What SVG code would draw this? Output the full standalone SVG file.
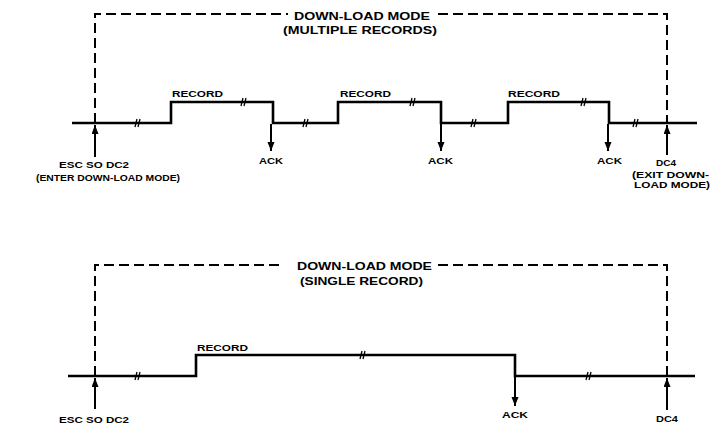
<svg xmlns="http://www.w3.org/2000/svg" width="711" height="426" viewBox="0 0 711 426">
<style>
.bg{fill:#fff}
.sig{fill:none;stroke:#000;stroke-width:2.6;stroke-linejoin:miter}
.dash{fill:none;stroke:#000;stroke-width:2;stroke-dasharray:10 5}
.arr{stroke:#000;stroke-width:2;fill:none}
.brk{stroke:#000;stroke-width:1.3}
text{font-family:"Liberation Sans",Arial,sans-serif;font-weight:bold;fill:#000}
.t{font-size:11px}
.s{font-size:9.5px}
</style>
<defs>
<marker id="ah" markerUnits="userSpaceOnUse" markerWidth="9" markerHeight="8" refX="9" refY="3.5" orient="auto">
<path d="M0,0 L9,3.5 L0,7 z" fill="#000"/>
</marker>
</defs>
<rect class="bg" width="711" height="426"/>

<g id="connectors">
<path class="dash" d="M95,123 V14 H288"/>
<path class="dash" d="M438,14 H667 V123"/>
<path class="sig" d="M72,123 H171 V102 H273 V123 H338 V102 H441 V123 H508 V102 H609 V123 H697"/>
<line class="arr" x1="95" y1="157" x2="95" y2="125" marker-end="url(#ah)"/>
<line class="arr" x1="271" y1="124" x2="271" y2="151" marker-end="url(#ah)"/>
<line class="arr" x1="441" y1="124" x2="441" y2="151" marker-end="url(#ah)"/>
<line class="arr" x1="608" y1="124" x2="608" y2="151" marker-end="url(#ah)"/>
<line class="arr" x1="667" y1="155" x2="667" y2="125" marker-end="url(#ah)"/>
<g class="brk">
<path d="M135,127 l2,-8 M138,127 l2,-8"/>
<path d="M241,106 l2,-8 M244,106 l2,-8"/>
<path d="M303,127 l2,-8 M306,127 l2,-8"/>
<path d="M410,106 l2,-8 M413,106 l2,-8"/>
<path d="M471,127 l2,-8 M474,127 l2,-8"/>
<path d="M581,106 l2,-8 M584,106 l2,-8"/>
<path d="M633,127 l2,-8 M636,127 l2,-8"/>
</g>
<path class="dash" d="M95,376 V265 H283"/>
<path class="dash" d="M438,265 H667 V376"/>
<path class="sig" d="M68,376 H196 V355 H515 V376 H695"/>
<line class="arr" x1="95" y1="409" x2="95" y2="378" marker-end="url(#ah)"/>
<line class="arr" x1="515" y1="377" x2="515" y2="406" marker-end="url(#ah)"/>
<line class="arr" x1="667" y1="410" x2="667" y2="378" marker-end="url(#ah)"/>
<g class="brk">
<path d="M135,380 l2,-8 M138,380 l2,-8"/>
<path d="M360,359 l2,-8 M363,359 l2,-8"/>
<path d="M586,380 l2,-8 M589,380 l2,-8"/>
</g>
</g>

<g id="title-multi">
<text class="t" x="294" y="19.5" textLength="136" lengthAdjust="spacingAndGlyphs">DOWN-LOAD MODE</text>
<text class="t" x="283" y="34" textLength="154" lengthAdjust="spacingAndGlyphs">(MULTIPLE RECORDS)</text>
</g>
<g id="record-1"><text class="s" x="172" y="97" textLength="51" lengthAdjust="spacingAndGlyphs">RECORD</text></g>
<g id="record-2"><text class="s" x="340" y="97" textLength="51" lengthAdjust="spacingAndGlyphs">RECORD</text></g>
<g id="record-3"><text class="s" x="508" y="97" textLength="52" lengthAdjust="spacingAndGlyphs">RECORD</text></g>
<g id="ack-1"><text class="s" x="259" y="164" textLength="24" lengthAdjust="spacingAndGlyphs">ACK</text></g>
<g id="ack-2"><text class="s" x="428" y="164" textLength="25" lengthAdjust="spacingAndGlyphs">ACK</text></g>
<g id="ack-3"><text class="s" x="597" y="164" textLength="25" lengthAdjust="spacingAndGlyphs">ACK</text></g>
<g id="enter">
<text class="s" x="59" y="167.5" textLength="70" lengthAdjust="spacingAndGlyphs">ESC SO DC2</text>
<text class="s" x="36" y="180.5" textLength="144" lengthAdjust="spacingAndGlyphs">(ENTER DOWN-LOAD MODE)</text>
</g>
<g id="exit">
<text class="s" x="656" y="165.5" textLength="20" lengthAdjust="spacingAndGlyphs">DC4</text>
<text class="s" x="632" y="177.5" textLength="77" lengthAdjust="spacingAndGlyphs">(EXIT DOWN-</text>
<text class="s" x="634" y="188" textLength="76" lengthAdjust="spacingAndGlyphs">LOAD MODE)</text>
</g>

<g id="title-single">
<text class="t" x="297" y="269.5" textLength="135" lengthAdjust="spacingAndGlyphs">DOWN-LOAD MODE</text>
<text class="t" x="300" y="285" textLength="123" lengthAdjust="spacingAndGlyphs">(SINGLE RECORD)</text>
</g>
<g id="record-single"><text class="s" x="197" y="351" textLength="51" lengthAdjust="spacingAndGlyphs">RECORD</text></g>
<g id="ack-single"><text class="s" x="502" y="418" textLength="26" lengthAdjust="spacingAndGlyphs">ACK</text></g>
<g id="esc-single"><text class="s" x="59" y="423" textLength="70" lengthAdjust="spacingAndGlyphs">ESC SO DC2</text></g>
<g id="dc4-single"><text class="s" x="656" y="422" textLength="22" lengthAdjust="spacingAndGlyphs">DC4</text></g>
</svg>
